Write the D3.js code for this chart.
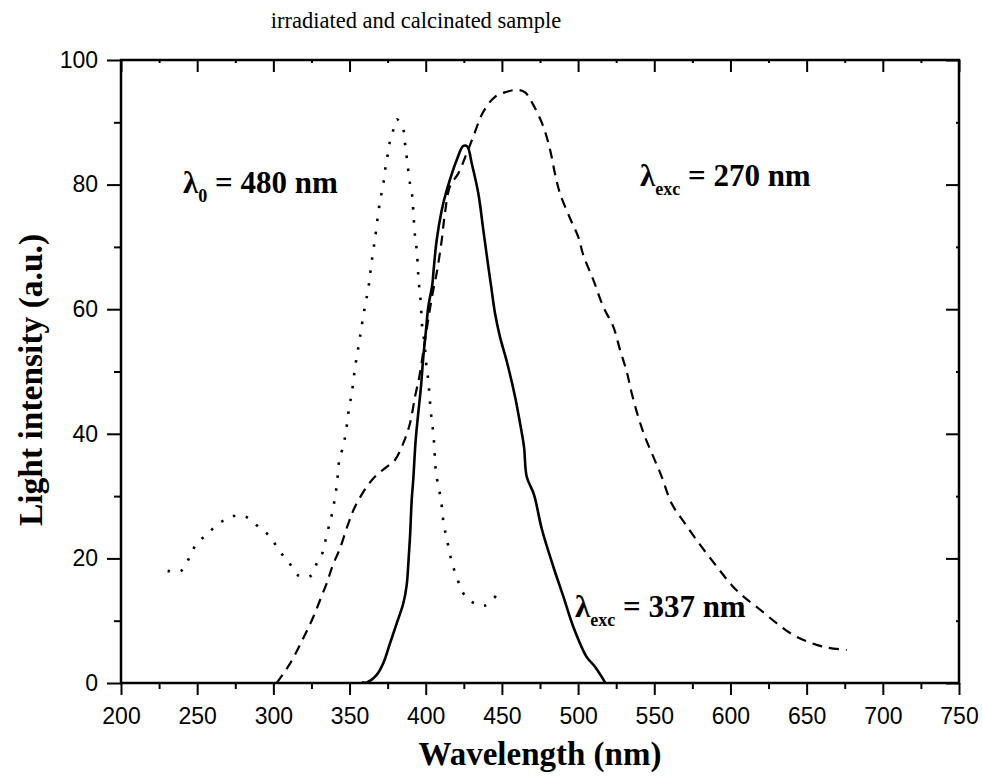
<!DOCTYPE html>
<html>
<head>
<meta charset="utf-8">
<script src="https://cdn.jsdelivr.net/npm/d3@7"></script>
<style>
  body { margin: 0; background: #fff; }
  svg { display: block; }
</style>
</head>
<body>
<div id="chart"></div>
<script>
var width = 982, height = 779;
var margin = {top: 60, right: 23, bottom: 96, left: 121};
var w = width - margin.left - margin.right,
    h = height - margin.top - margin.bottom;

// excitation spectrum, lambda0 = 480 nm (dotted)
var exWave = [230.6, 239.4, 244.8, 249.2, 256.9, 265.4, 273.7, 281.8, 290.1, 297.8, 303.7, 310.3, 316.8, 324.5,
  328.8, 332.4, 334.4, 336.7, 338.7, 341.6, 343.3, 345.7, 347.5, 349.8, 351.4, 353.6, 356.4, 357.7, 360.6,
  362.3, 363.4, 365.6, 366.9, 369.1, 370.6, 372.2, 373.3, 374.8, 376.1, 378.3, 381.0, 385.3, 386.4, 387.5,
  389.7, 391.2, 391.8, 393.0, 394.1, 395.1, 395.8, 396.7, 397.8, 399.1, 400.6, 401.7, 402.4, 403.9, 405.0,
  406.1, 406.7, 408.3, 410.0, 412.0, 413.8, 415.5, 417.4, 420.7, 423.6, 429.7, 438.5, 446.1];
var exInt = [18.0, 18.0, 20.1, 22.2, 24.0, 25.8, 26.8, 26.7, 25.1, 23.5, 21.3, 19.3, 17.2, 17.2,
  19.4, 21.0, 23.1, 25.4, 27.4, 31.7, 35.8, 37.9, 40.1, 44.3, 46.4, 50.6, 54.8, 56.9, 61.1,
  63.2, 65.5, 69.5, 71.6, 75.9, 78.1, 80.1, 82.3, 84.4, 86.5, 88.4, 90.5, 88.8, 86.6, 84.4,
  80.1, 78.1, 75.9, 71.6, 69.5, 65.5, 63.4, 61.2, 56.9, 54.8, 50.5, 48.6, 46.3, 42.2, 40.1,
  35.8, 33.8, 31.6, 29.4, 25.2, 23.2, 21.1, 19.1, 16.8, 14.8, 13.1, 12.4, 14.0];

// emission, lambda_exc = 270 nm (dashed)
var em270Wave = [302.2, 310.9, 319.6, 326.2, 332.4, 335.0, 338.7, 343.7, 349.2, 353.6, 361.3, 367.8, 374.4,
  379.8, 385.3, 389.7, 393.0, 395.8, 398.4, 400.6, 402.8, 405.6, 407.2, 410.5, 412.6, 415.9, 421.4, 426.4,
  431.2, 437.8, 445.5, 453.2, 459.7, 465.2, 470.6, 477.2, 481.6, 484.8, 488.1, 494.7, 500.1, 503.4, 510.0,
  516.5, 523.1, 527.5, 531.9, 535.2, 539.5, 543.9, 549.4, 554.9, 561.4, 570.2, 580.0, 591.0, 600.8, 608.4,
  618.3, 630.3, 641.3, 652.2, 663.2, 676.3];
var em270Int = [0.0, 3.1, 7.2, 10.6, 14.4, 16.0, 18.7, 21.6, 25.6, 28.3, 31.5, 33.4, 34.7,
  35.8, 38.5, 41.7, 46.0, 49.2, 53.2, 56.7, 60.1, 63.9, 65.8, 71.1, 75.4, 79.7, 81.8, 84.7,
  87.7, 91.7, 94.1, 94.9, 95.2, 94.8, 92.8, 89.3, 85.6, 81.8, 78.6, 74.6, 71.6, 68.7, 64.7,
  60.4, 57.2, 53.5, 50.0, 46.5, 42.7, 39.5, 36.3, 33.1, 28.8, 25.6, 22.2, 18.7, 15.7, 13.9,
  12.0, 9.6, 7.7, 6.5, 5.7, 5.3];

// emission, lambda_exc = 337 nm (solid)
var em337Wave = [358.0, 361.3, 367.8, 372.2, 376.6, 381.0, 385.3, 387.5, 388.6, 389.7, 390.8, 391.8, 393.4,
  395.1, 396.9, 398.4, 400.2, 401.7, 404.3, 405.0, 407.2, 410.5, 413.8, 420.4, 424.7, 427.3, 430.2, 434.5,
  437.8, 441.1, 442.8, 445.5, 448.7, 453.2, 458.6, 461.9, 464.5, 466.3, 471.1, 476.1, 483.7, 490.3, 496.9,
  505.6, 511.1, 517.7];
var em337Int = [0.1, 0.1, 1.3, 3.2, 6.4, 9.6, 12.8, 15.7, 19.2, 23.5, 29.4, 32.6, 39.0,
  43.3, 47.6, 52.3, 56.7, 60.4, 63.9, 65.8, 71.1, 75.9, 79.1, 84.0, 86.2, 86.1, 83.4, 78.6,
  72.7, 66.8, 63.9, 59.3, 55.6, 51.6, 46.0, 41.7, 37.9, 33.1, 30.2, 24.8, 18.7, 13.9, 9.0,
  4.2, 2.6, 0.1];

var xTicks = [200, 250, 300, 350, 400, 450, 500, 550, 600, 650, 700, 750];
var yTicks = [0, 20, 40, 60, 80, 100];

var svg = d3.select("#chart")
  .append("svg")
    .attr("width", width)
    .attr("height", height)
  .append("g")
    .attr("transform", "translate(" + margin.left + "," + margin.top + ")");

var x = d3.scaleLinear().domain([200, 750]).range([0, w]);
var y = d3.scaleLinear().domain([0, 100]).range([h, 0]);

var xMinor = d3.range(200, 751, 25).filter(function(d){ return d % 50 != 0; });
var yMinor = d3.range(0, 101, 10).filter(function(d){ return d % 20 != 0; });

function styleAxis(g) {
  g.selectAll("path").remove();
  g.selectAll("line").attr("stroke", "#000").attr("stroke-width", 2);
  g.selectAll("text").attr("font-family", "Liberation Sans, Arial, sans-serif")
    .attr("font-size", "23px").attr("fill", "#000");
}

// bottom axis
svg.append("g").attr("transform", "translate(0," + h + ")")
  .call(d3.axisBottom(x).tickValues(xMinor).tickSize(6).tickFormat(""))
  .call(styleAxis);
svg.append("g").attr("transform", "translate(0," + h + ")")
  .call(d3.axisBottom(x).tickValues(xTicks).tickSize(12).tickPadding(13).tickFormat(d3.format("d")))
  .call(styleAxis);
// top axis (ticks inward)
svg.append("g")
  .call(d3.axisBottom(x).tickValues(xMinor).tickSize(3).tickFormat(""))
  .call(styleAxis);
svg.append("g")
  .call(d3.axisBottom(x).tickValues(xTicks).tickSize(12).tickFormat(""))
  .call(styleAxis);
// left axis
svg.append("g")
  .call(d3.axisLeft(y).tickValues(yMinor).tickSize(7).tickFormat(""))
  .call(styleAxis);
svg.append("g")
  .call(d3.axisLeft(y).tickValues(yTicks).tickSize(14).tickPadding(9).tickFormat(d3.format("d")))
  .call(styleAxis);
// right axis (ticks inward)
svg.append("g").attr("transform", "translate(" + w + ",0)")
  .call(d3.axisLeft(y).tickValues(yMinor).tickSize(3).tickFormat(""))
  .call(styleAxis);
svg.append("g").attr("transform", "translate(" + w + ",0)")
  .call(d3.axisLeft(y).tickValues(yTicks).tickSize(13).tickFormat(""))
  .call(styleAxis);

// frame
svg.append("rect")
  .attr("width", w).attr("height", h)
  .attr("fill", "none").attr("stroke", "#000").attr("stroke-width", 2.5);

var line = d3.line()
  .x(function(d){ return x(d[0]); })
  .y(function(d){ return y(d[1]); })
  .curve(d3.curveCatmullRom);

svg.append("path")
  .datum(d3.zip(exWave, exInt))
  .attr("d", line)
  .attr("fill", "none").attr("stroke", "#000")
  .attr("stroke-width", 2.6).attr("stroke-dasharray", "2.5,10.5");

svg.append("path")
  .datum(d3.zip(em270Wave, em270Int))
  .attr("d", line)
  .attr("fill", "none").attr("stroke", "#000")
  .attr("stroke-width", 2.2).attr("stroke-dasharray", "10,7");

svg.append("path")
  .datum(d3.zip(em337Wave, em337Int))
  .attr("d", line)
  .attr("fill", "none").attr("stroke", "#000")
  .attr("stroke-width", 2.6);

// title
svg.append("text")
  .attr("x", 295)
  .attr("y", -32)
  .attr("text-anchor", "middle")
  .attr("font-family", "Liberation Serif, Times New Roman, serif")
  .attr("font-size", "22.5px")
  .text("irradiated and calcinated sample");

// axis titles
svg.append("text")
  .attr("x", w / 2)
  .attr("y", h + 82)
  .attr("text-anchor", "middle")
  .attr("font-family", "Liberation Serif, Times New Roman, serif")
  .attr("font-weight", "bold")
  .attr("font-size", "33px")
  .text("Wavelength (nm)");

svg.append("text")
  .attr("transform", "rotate(-90)")
  .attr("x", -320)
  .attr("y", -79)
  .attr("text-anchor", "middle")
  .attr("font-family", "Liberation Serif, Times New Roman, serif")
  .attr("font-weight", "bold")
  .attr("font-size", "33.5px")
  .text("Light intensity (a.u.)");

// annotations
function label(px, py, sub, rest) {
  var t = svg.append("text")
    .attr("x", px).attr("y", py)
    .attr("font-family", "Liberation Serif, Times New Roman, serif")
    .attr("font-weight", "bold")
    .attr("font-size", "31px");
  t.append("tspan").text("λ");
  t.append("tspan").attr("font-size", "18px").attr("dy", 9).text(sub);
  t.append("tspan").attr("dy", -9).text(" " + rest);
}
label(183 - margin.left, 193 - margin.top, "0", "= 480 nm");
label(640 - margin.left, 186 - margin.top, "exc", "= 270 nm");
label(575 - margin.left, 617 - margin.top, "exc", "= 337 nm");
</script>
</body>
</html>
